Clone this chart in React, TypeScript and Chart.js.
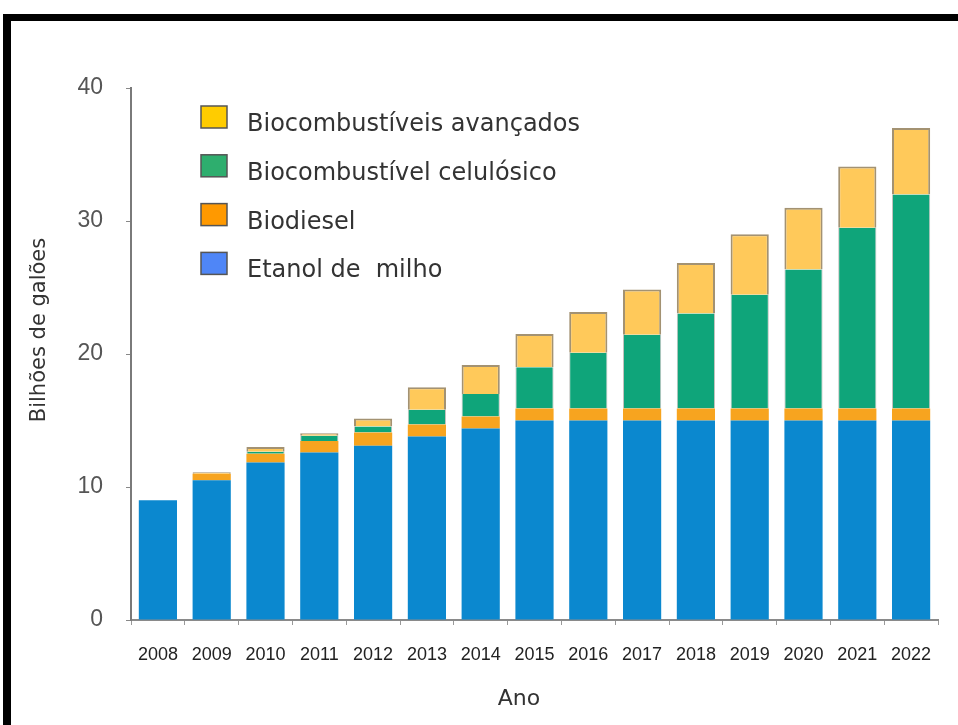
import React, { useEffect, useRef } from "react";
import { Chart, registerables } from "chart.js";

Chart.register(...registerables);

// ---- data ----
const years = ["2008", "2009", "2010", "2011", "2012", "2013", "2014", "2015", "2016", "2017", "2018", "2019", "2020", "2021", "2022"];
const etanolMilho = [9.0, 10.5, 11.85, 12.6, 13.1, 13.8, 14.4, 15.0, 15.0, 15.0, 15.0, 15.0, 15.0, 15.0, 15.0];
const biodiesel = [0, 0.5, 0.65, 0.85, 1.0, 0.9, 0.9, 0.9, 0.9, 0.9, 0.9, 0.9, 0.9, 0.9, 0.9];
const celulosico = [0, 0, 0.15, 0.4, 0.45, 1.1, 1.7, 3.1, 4.2, 5.55, 7.15, 8.55, 10.45, 13.6, 16.1];
const avancados = [0, 0.1, 0.35, 0.2, 0.6, 1.7, 2.17, 2.5, 3.05, 3.4, 3.8, 4.55, 4.65, 4.6, 5.0];
const yTickValues = [0, 10, 20, 30, 40];
const seriesLabels = ["Etanol de  milho", "Biodiesel", "Biocombustível celulósico", "Biocombustíveis avançados"];
const yTitle = "Bilhões de galões";
const xTitle = "Ano";

// ---- styles ----
const barColors = ["#0b88cf", "#f7a41f", "#0fa57a", "#ffc95a"];
const legendColors = ["#4f86f7", "#ff9900", "#2eae6e", "#ffcc00"];

const overlayPlugin = {
  id: "overlay",
  afterDraw(chart: any) {
    const ctx = chart.ctx as CanvasRenderingContext2D;
    ctx.save();
    // y title
    ctx.fillStyle = "#333";
    ctx.font = '21px "DejaVu Sans"';
    ctx.textAlign = "center";
    ctx.textBaseline = "middle";
    ctx.translate(40, 330);
    ctx.rotate(-Math.PI / 2);
    ctx.fillText(yTitle, 0, 0);
    ctx.setTransform(1, 0, 0, 1, 0, 0);
    // x title
    ctx.font = '22px "DejaVu Sans"';
    ctx.fillText(xTitle, 519, 699);
    // legend (top-most series first)
    ctx.font = '24px "DejaVu Sans"';
    ctx.textAlign = "left";
    ctx.textBaseline = "alphabetic";
    const n = seriesLabels.length;
    for (let i = 0; i < n; i++) {
      const idx = n - 1 - i;
      const cy = 117 + i * 48.8;
      ctx.fillStyle = legendColors[idx];
      ctx.fillRect(201, cy - 11, 26, 22);
      ctx.strokeStyle = "#555";
      ctx.lineWidth = 1.5;
      ctx.strokeRect(201, cy - 11, 26, 22);
      ctx.fillStyle = "#333";
      ctx.fillText(seriesLabels[idx], 247, cy + 14);
    }
    ctx.restore();
  },
};

export default function App() {
  const ref = useRef<HTMLCanvasElement | null>(null);

  useEffect(() => {
    if (!ref.current) return;
    const series = [etanolMilho, biodiesel, celulosico, avancados];
    const chart = new Chart(ref.current, {
      type: "bar",
      data: {
        labels: years,
        datasets: series.map((d, i) => ({
          label: seriesLabels[i],
          data: d,
          backgroundColor: barColors[i],
          borderColor: i === 3 ? "#a39272" : "rgba(120,120,110,0.45)",
          borderWidth: i === 3 ? 2 : i === 2 ? { left: 1, right: 1, top: 0, bottom: 0 } : 0,
          borderSkipped: "start",
          barPercentage: 0.71,
          categoryPercentage: 1,
          stack: "s",
        })),
      },
      options: {
        responsive: false,
        animation: false,
        layout: { padding: { left: 0, right: 20, top: 88, bottom: 0 } },
        plugins: { legend: { display: false }, tooltip: { enabled: false }, title: { display: false } },
        scales: {
          x: {
            stacked: true,
            grid: { display: true, drawOnChartArea: false, drawTicks: true, tickLength: 5, color: "#999", offset: true },
            border: { display: true, color: "#8a8a8a", width: 2 },
            ticks: { color: "#222", font: { family: "Liberation Sans", size: 18 }, padding: 19, maxRotation: 0, autoSkip: false },
            afterFit: (s: any) => { s.height = 105; },
          },
          y: {
            stacked: true,
            min: 0,
            max: 40,
            afterBuildTicks: (s: any) => { s.ticks = yTickValues.map((v) => ({ value: v })); },
            grid: { display: true, drawOnChartArea: false, drawTicks: true, tickLength: 5, color: "#888" },
            border: { display: true, color: "#7a7a7a", width: 2 },
            ticks: { color: "#555", font: { family: "Liberation Sans", size: 23 }, padding: 23 },
            afterFit: (s: any) => { s.width = 131; },
          },
        },
      },
      plugins: [overlayPlugin],
    });
    return () => chart.destroy();
  }, []);

  return (
    <div style={{ position: "fixed", left: 0, top: 0, width: 958, height: 725, background: "#fff", overflow: "hidden" }}>
      <canvas ref={ref} width={958} height={725} style={{ position: "absolute", left: 0, top: 0, width: 958, height: 725 }} />
      <div
        style={{
          position: "absolute",
          left: 3,
          top: 14,
          width: 970,
          height: 706,
          borderTop: "7px solid #000",
          borderLeft: "8px solid #000",
          borderBottom: "2px solid #888",
          pointerEvents: "none",
        }}
      />
    </div>
  );
}
